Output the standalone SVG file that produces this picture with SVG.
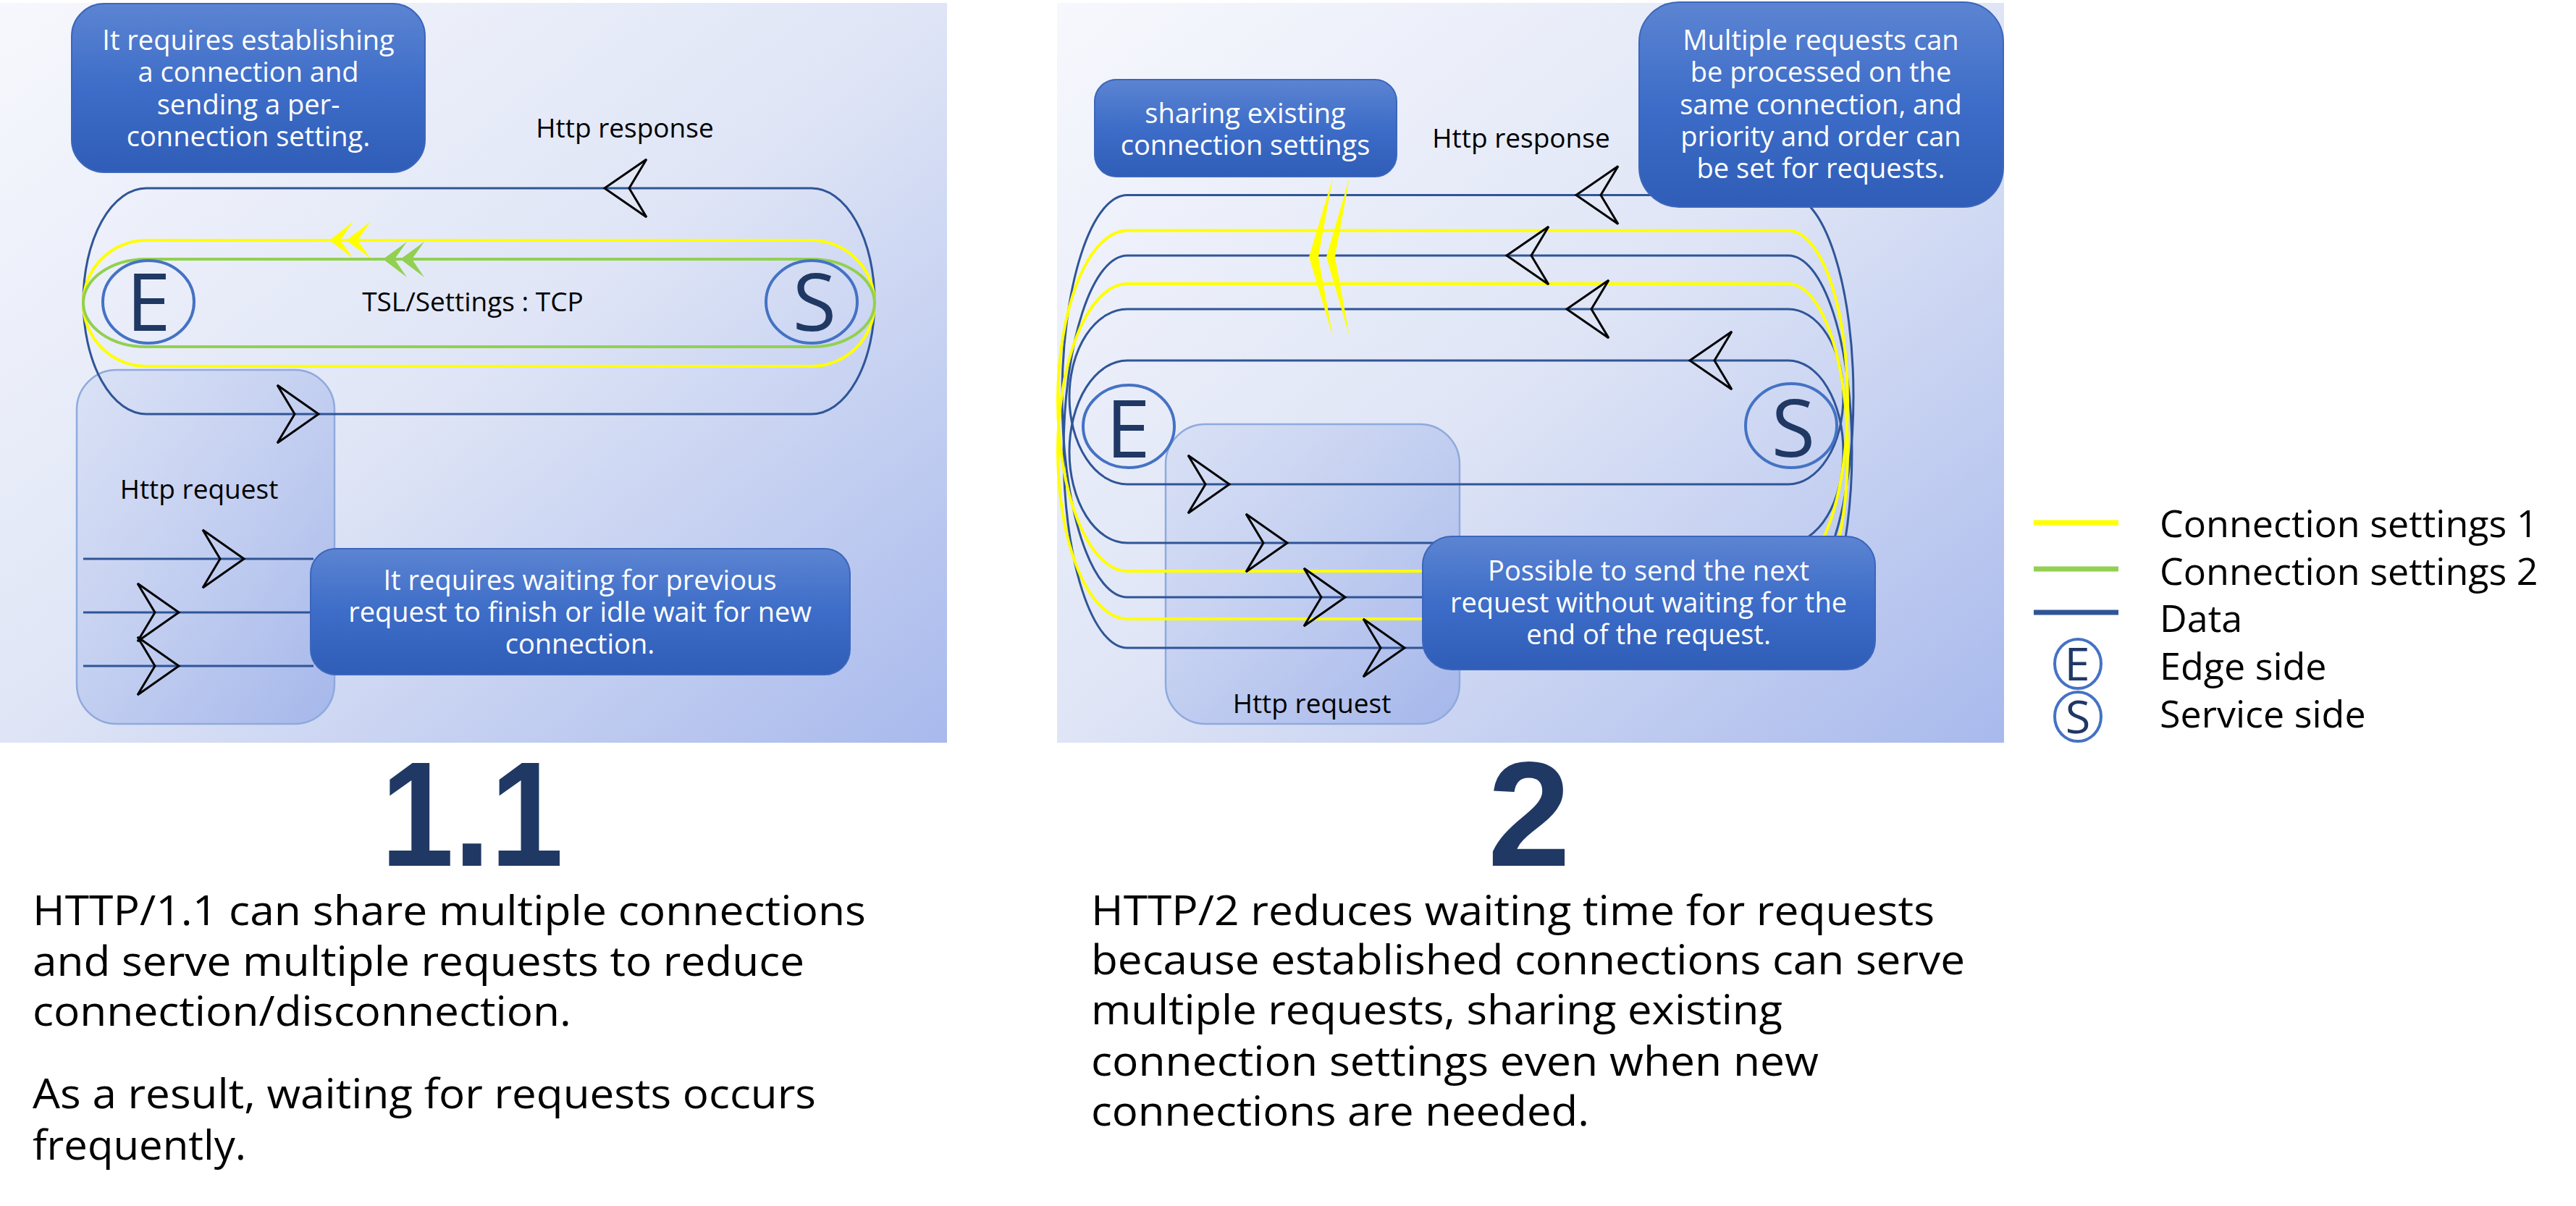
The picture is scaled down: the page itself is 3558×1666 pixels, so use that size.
<svg xmlns="http://www.w3.org/2000/svg" width="3558" height="1666" viewBox="0 0 3558 1666">
<defs>
<linearGradient id="bg" x1="0" y1="0" x2="1" y2="1">
<stop offset="0" stop-color="#f7f8fd"/>
<stop offset="0.5" stop-color="#dfe5f6"/>
<stop offset="1" stop-color="#a8b9ec"/>
</linearGradient>
<linearGradient id="callg" x1="0" y1="0" x2="0" y2="1">
<stop offset="0" stop-color="#5c84d2"/>
<stop offset="0.5" stop-color="#3d6dc8"/>
<stop offset="1" stop-color="#2f5db8"/>
</linearGradient>
<linearGradient id="reqg" x1="0" y1="0" x2="1" y2="1">
<stop offset="0" stop-color="#c9d4f2" stop-opacity="0.45"/>
<stop offset="1" stop-color="#a3b5ea" stop-opacity="0.95"/>
</linearGradient>
<style>
.f{font-family:'Open Sans','Noto Sans','DejaVu Sans',sans-serif}
.ct{font-size:38px;fill:#ffffff;text-anchor:middle}
.lb{font-size:37px;fill:#000000;text-anchor:middle}
.nv{fill:none;stroke:#2f5597;stroke-width:3}
.yl{fill:none;stroke:#ffff00;stroke-width:4}
.gr{fill:none;stroke:#92d050;stroke-width:4}
.ar{fill:none;stroke:#000000;stroke-width:3;stroke-linejoin:miter}
.cir{fill:none;stroke:#4472c4;stroke-width:4}
.let{font-size:110px;fill:#203864;text-anchor:middle}
.call{fill:url(#callg);stroke:#3b66bb;stroke-width:2}
.req{fill:url(#reqg);stroke:#8faadc;stroke-width:2.5}
.para{font-size:56px;fill:#000000}
.big{font-family:'Liberation Sans',Arial,sans-serif;font-weight:bold;font-size:206px;fill:#203864;text-anchor:middle}
.leg{font-size:52px;fill:#000000}
.chy{fill:#ffff00}
.chg{fill:#92d050}
</style>
<path id="arL" class="ar" d="M0,0 L58,-40 L34,0 L58,40 Z"/>
<path id="arR" class="ar" d="M0,0 L-57,-40 L-33,0 L-57,40 Z"/>
</defs>

<g id="backgrounds">
<rect x="0" y="4" width="1308" height="1022" fill="url(#bg)"/>
<rect x="1460" y="4" width="1308" height="1022" fill="url(#bg)"/>
</g>

<g id="req-box-1"><rect class="req" x="106" y="511" width="356" height="489" rx="55" ry="55"/></g>
<g id="req-box-2"><rect class="req" x="1610" y="586" width="406" height="414" rx="55" ry="55"/></g>

<g id="connectors">
<!-- HTTP/1.1 -->
<rect class="nv" x="115" y="260" width="1093" height="312" rx="87" ry="156"/>
<rect class="yl" x="115" y="332" width="1093" height="174" rx="87" ry="87"/>
<rect class="gr" x="115" y="358" width="1093" height="121" rx="87" ry="60.5"/>
<path class="nv" d="M115,772 H433 M115,846 H433 M115,920 H433"/>
<polygon class="chy" points="455,332 488,306 470,332 488,357"/>
<polygon class="chy" points="478,332 512,306 494,332 512,357"/>
<polygon class="chg" points="529,358 562,334 545,358 562,383"/>
<polygon class="chg" points="553,358 586,334 569,358 586,383"/>
<use href="#arL" x="835" y="260"/>
<use href="#arR" x="440" y="572"/>
<use href="#arR" x="337" y="772"/>
<use href="#arR" x="247" y="846"/>
<use href="#arR" x="247" y="920"/>
<!-- HTTP/2 -->
<path class="nv" d="M1557,269.5 H2470 A90,277.75 0 0 1 2470,825 H1557 A90,277.75 0 0 1 1557,269.5 Z"/>
<path class="nv" d="M1557,353 H2470 A88,271 0 0 1 2470,895 H1557 A88,271 0 0 1 1557,353 Z"/>
<path class="nv" d="M1557,427 H2470 A76,121 0 0 1 2470,669 H1557 A80,121 0 0 1 1557,427 Z"/>
<path class="nv" d="M1557,498 H2470 A76,126 0 0 1 2470,750 H1557 A80,126 0 0 1 1557,498 Z"/>
<path class="yl" d="M1557,318.6 H2470 A82,235.2 0 0 1 2470,789 H1557 A96,235.2 0 0 1 1557,318.6 Z"/>
<path class="yl" d="M1557,392 H2470 A82,231.5 0 0 1 2470,855 H1557 A96,231.5 0 0 1 1557,392 Z"/>
<polygon class="chy" points="1841,245 1808,355 1841,465 1821,355"/>
<polygon class="chy" points="1864,245 1832,355 1864,465 1844,355"/>
<use href="#arL" x="2177" y="269.5"/>
<use href="#arL" x="2081" y="353"/>
<use href="#arL" x="2164" y="427"/>
<use href="#arL" x="2334" y="498"/>
<use href="#arR" x="1698" y="669"/>
<use href="#arR" x="1778" y="750"/>
<use href="#arR" x="1858" y="825"/>
<use href="#arR" x="1940" y="895"/>
</g>

<g id="edge-1"><ellipse class="cir" cx="205" cy="417" rx="63" ry="57"/><text class="f let" x="205" y="457">E</text></g>
<g id="service-1"><ellipse class="cir" cx="1121" cy="417" rx="63" ry="57"/><text class="f let" x="1125" y="457">S</text></g>
<g id="edge-2"><ellipse class="cir" cx="1559" cy="589" rx="63" ry="57"/><text class="f let" x="1558" y="632">E</text></g>
<g id="service-2"><ellipse class="cir" cx="2474" cy="588" rx="63" ry="58"/><text class="f let" x="2477" y="631">S</text></g>

<g id="label-tcp"><text class="f lb" x="653" y="430">TSL/Settings : TCP</text></g>
<g id="label-resp-1"><text class="f lb" x="863" y="190">Http response</text></g>
<g id="label-req-1"><text class="f lb" x="275" y="689">Http request</text></g>
<g id="label-resp-2"><text class="f lb" x="2101" y="204">Http response</text></g>
<g id="label-req-2"><text class="f lb" x="1812" y="985">Http request</text></g>

<g id="callout-connect">
<rect class="call" x="99" y="5" width="488" height="233" rx="45" ry="45"/>
<text class="f ct" x="343" y="69">It requires establishing</text>
<text class="f ct" x="343" y="113">a connection and</text>
<text class="f ct" x="343" y="158">sending a per-</text>
<text class="f ct" x="343" y="202">connection setting.</text>
</g>
<g id="callout-wait">
<rect class="call" x="429" y="758" width="745" height="174" rx="35" ry="35"/>
<text class="f ct" x="801" y="815">It requires waiting for previous</text>
<text class="f ct" x="801" y="859">request to finish or idle wait for new</text>
<text class="f ct" x="801" y="903">connection.</text>
</g>
<g id="callout-sharing">
<rect class="call" x="1512" y="110" width="417" height="134" rx="30" ry="30"/>
<text class="f ct" x="1720" y="170">sharing existing</text>
<text class="f ct" x="1720" y="214">connection settings</text>
</g>
<g id="callout-multiple">
<rect class="call" x="2264" y="3" width="503" height="283" rx="55" ry="55"/>
<text class="f ct" x="2515" y="69">Multiple requests can</text>
<text class="f ct" x="2515" y="113">be processed on the</text>
<text class="f ct" x="2515" y="158">same connection, and</text>
<text class="f ct" x="2515" y="202">priority and order can</text>
<text class="f ct" x="2515" y="246">be set for requests.</text>
</g>
<g id="callout-next">
<rect class="call" x="1965" y="741" width="625" height="184" rx="40" ry="40"/>
<text class="f ct" x="2277" y="802">Possible to send the next</text>
<text class="f ct" x="2277" y="846">request without waiting for the</text>
<text class="f ct" x="2277" y="890">end of the request.</text>
</g>

<g id="title-11"><text class="big" x="652" y="1196" textLength="252" lengthAdjust="spacingAndGlyphs">1.1</text></g>
<g id="title-2"><text class="big" x="2112" y="1196">2</text></g>

<g id="desc-11">
<text class="f para" x="45" y="1278" textLength="1151" lengthAdjust="spacingAndGlyphs">HTTP/1.1 can share multiple connections</text>
<text class="f para" x="45" y="1348" textLength="1066" lengthAdjust="spacingAndGlyphs">and serve multiple requests to reduce</text>
<text class="f para" x="45" y="1417" textLength="744" lengthAdjust="spacingAndGlyphs">connection/disconnection.</text>
<text class="f para" x="45" y="1531" textLength="1082" lengthAdjust="spacingAndGlyphs">As a result, waiting for requests occurs</text>
<text class="f para" x="45" y="1602" textLength="295" lengthAdjust="spacingAndGlyphs">frequently.</text>
</g>
<g id="desc-2">
<text class="f para" x="1507" y="1278" textLength="1165" lengthAdjust="spacingAndGlyphs">HTTP/2 reduces waiting time for requests</text>
<text class="f para" x="1507" y="1346" textLength="1207" lengthAdjust="spacingAndGlyphs">because established connections can serve</text>
<text class="f para" x="1507" y="1415" textLength="955" lengthAdjust="spacingAndGlyphs">multiple requests, sharing existing</text>
<text class="f para" x="1507" y="1486" textLength="1005" lengthAdjust="spacingAndGlyphs">connection settings even when new</text>
<text class="f para" x="1507" y="1555" textLength="688" lengthAdjust="spacingAndGlyphs">connections are needed.</text>
</g>

<g id="legend">
<line x1="2809" y1="722" x2="2926" y2="722" stroke="#ffff00" stroke-width="7"/>
<line x1="2809" y1="786" x2="2926" y2="786" stroke="#92d050" stroke-width="7"/>
<line x1="2809" y1="846" x2="2926" y2="846" stroke="#2f5597" stroke-width="7"/>
<ellipse class="cir" cx="2870" cy="917" rx="32" ry="34" stroke-width="3.5"/>
<text class="f" x="2869" y="940" font-size="63" fill="#203864" text-anchor="middle">E</text>
<ellipse class="cir" cx="2870" cy="990" rx="32" ry="34" stroke-width="3.5"/>
<text class="f" x="2870" y="1013" font-size="63" fill="#203864" text-anchor="middle">S</text>
<text class="f leg" x="2983" y="742">Connection settings 1</text>
<text class="f leg" x="2983" y="808">Connection settings 2</text>
<text class="f leg" x="2983" y="873">Data</text>
<text class="f leg" x="2983" y="939">Edge side</text>
<text class="f leg" x="2983" y="1005">Service side</text>
</g>
</svg>
